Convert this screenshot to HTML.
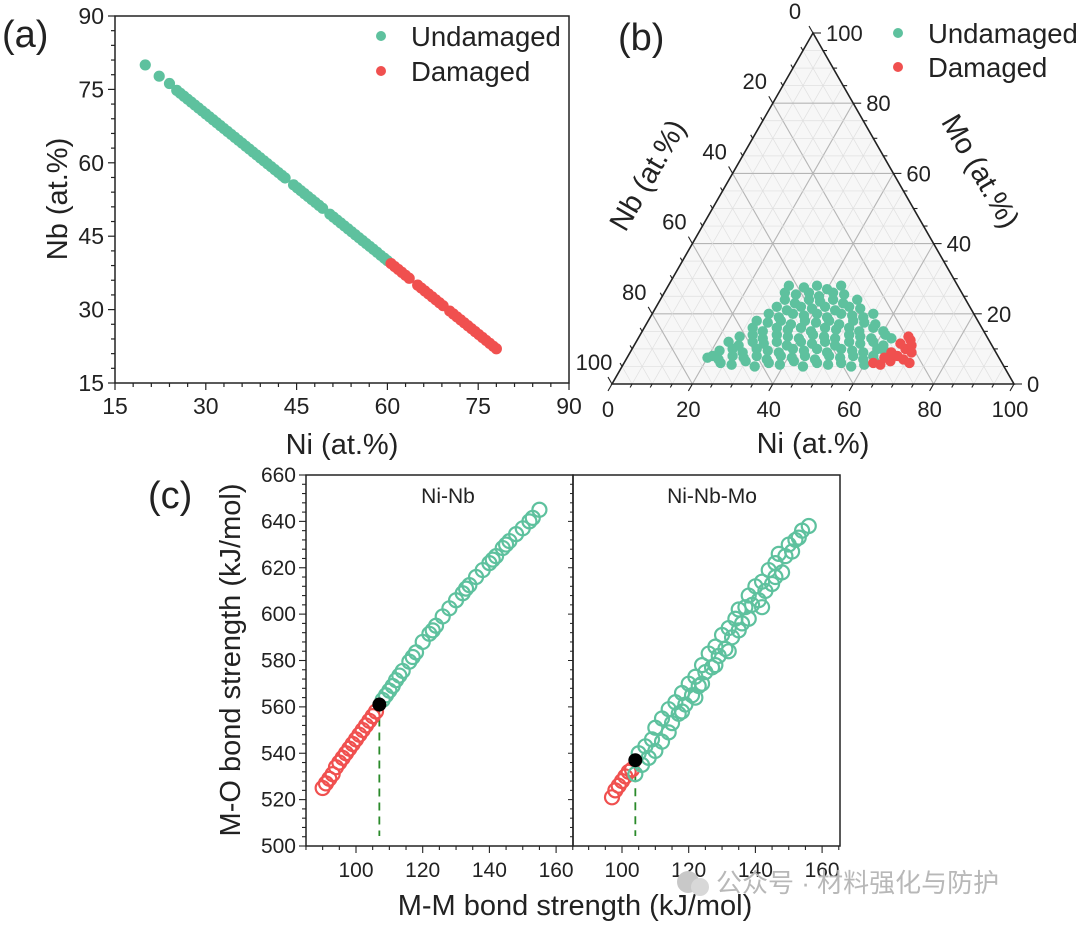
<!DOCTYPE html>
<html><head><meta charset="utf-8"><style>
html,body{margin:0;padding:0;background:#fff;}
svg{display:block;font-family:"Liberation Sans","Noto Sans CJK SC",sans-serif;}
</style></head><body>
<svg id="fig" width="1080" height="925" viewBox="0 0 1080 925">
<rect width="1080" height="925" fill="#fff"/>
<g id="pa"></g>
<g id="pb"></g>
<g id="pc"></g>
<g>
<circle cx="688" cy="882" r="11" fill="#c8c8c8"/><circle cx="700" cy="887" r="9" fill="#d8d8d8"/>
<text x="716" y="892" font-size="26" fill="#b8b8b8">公众号 · 材料强化与防护</text>
</g>
</svg>
<script>
const GREEN="#5ec19e", RED="#f0504f";
// Panel (a) data: [Ni, Nb]
const aUndamaged=[[20,80],[22.3,77.7],[24,76.2],[25.2,74.8],[25.8,74.2],[26.4,73.6],[27,73],[27.6,72.4],[28.2,71.8],[28.8,71.2],[29.4,70.6],[30,70],[30.6,69.4],[31.2,68.8],[31.8,68.2],[32.4,67.6],[33,67],[33.6,66.4],[34.2,65.8],[34.8,65.2],[35.4,64.6],[36,64],[36.6,63.4],[37.2,62.8],[37.8,62.2],[38.4,61.6],[39,61],[39.6,60.4],[40.2,59.8],[40.8,59.2],[41.4,58.6],[42,58],[42.6,57.4],[43.1,56.9],[44.5,55.5],[45.1,54.9],[45.7,54.3],[46.3,53.7],[46.9,53.1],[47.5,52.5],[48.1,51.9],[48.7,51.3],[49.3,50.7],[50.5,49.5],[51.1,48.9],[51.7,48.3],[52.3,47.7],[52.9,47.1],[53.5,46.5],[54.1,45.9],[54.7,45.3],[55.3,44.7],[55.9,44.1],[56.5,43.5],[57.1,42.9],[57.7,42.3],[58.3,41.7],[58.9,41.1],[59.5,40.5],[60,40]];
const aDamaged=[[60.6,39.4],[61.2,38.8],[61.8,38.2],[62.4,37.6],[63,37],[63.6,36.4],[65,35],[65.6,34.4],[66.2,33.8],[66.8,33.2],[67.4,32.6],[68,32],[68.6,31.4],[69.2,30.8],[70.3,29.7],[70.9,29.1],[71.5,28.5],[72.1,27.9],[72.7,27.3],[73.3,26.7],[73.9,26.1],[74.5,25.5],[75.1,24.9],[75.7,24.3],[76.3,23.7],[76.9,23.1],[77.5,22.5],[78,22]];
const aTicks=[15,30,45,60,75,90];
// Panel (b) data: [Ni, Mo]
const bUndamaged=[[24,6],[27,5.5],[30,6.5],[33,5],[36,6],[39,5.5],[42,6.5],[45,5],[48,6],[51,5.5],[54,6],[57,5],[60,5.5],[62,6.5],
[20,7.5],[21,8],[23,7],[26,8],[29,7.5],[32,8],[35,7],[38,8],[41,7.5],[44,8],[47,7],[50,8],[53,7.5],[56,8],[59,7],[61,8],
[22,9.5],[25,10],[28,9],[31,10],[34,9.5],[37,9],[40,10],[43,9.5],[46,10],[49,9],[52,10],[55,9.5],[58,9],[61,10],[63,9.5],
[23,12],[26,11],[29,12],[32,11.5],[35,12],[38,11],[41,12],[44,11.5],[47,12],[50,11],[53,12],[56,11.5],[59,12],[62,11],
[25,13.5],[28,14],[31,13],[34,14],[37,13.5],[40,13],[43,14],[46,13.5],[49,13],[52,14],[55,13.5],[58,13],[61,14],[63,13],
[27,16],[30,15],[33,16],[36,15.5],[39,16],[42,15],[45,16],[48,15.5],[51,16],[54,15],[57,16],[60,15],
[27,18],[30,17.5],[33,18],[36,17],[39,18],[42,17.5],[45,18],[48,17],[51,18],[54,17.5],[57,17],
[29,20],[32,19],[35,20],[38,19.5],[41,20],[44,19],[47,20],[50,19.5],[53,19],[55,20],
[30,22],[33,21],[36,22],[39,21.5],[42,22],[45,21],[48,22],[51,21.5],
[31,24],[34,23],[37,24],[40,23.5],[43,24],[46,23],[49,24],
[30,26],[33,25.5],[36,26],[39,25],[42,26],[45,25.5],
[30,28],[34,27.5],[37,28],[40,27],[43,28]];
const bDamaged=[[62,6],[64,5.5],[66,6.5],[67,8],[65,9],[68,10],[66,11.5],[69,7],[70,9],[68,12.5],[71,6],[67,13.5],[64,7.5],[69,11]];
const bTicks=[0,20,40,60,80,100];
// Panel (c) data: [M-M, M-O]
const cNbDamaged=[[90,525],[91,527],[92,529],[93,531],[94,534],[95,536],[96,538],[97,540],[98,542],[99,544],[100,546],[101,548],[102,550],[103,552],[104,554],[105,556],[106,558]];
const cNbUndamaged=[[108,563],[109,565],[110,567],[111,569],[112,571.5],[113,573.5],[114,575.5],[116,579.5],[117,581.5],[118,583.5],[120,588],[122,591.5],[123,593],[124,595],[126,599],[128,602.5],[130,606],[132,609],[133,611],[134,612.5],[136,616],[138,619],[140,622],[141,623.5],[142,625],[144,628.5],[145,630],[146,631.5],[148,634.5],[150,637],[152,640],[153,641.5],[155,645]];
const cNbCritical=[107,561];
const cMoDamaged=[[97,521],[98,524],[99,526],[100,528],[101,530],[102,532],[103,533]];
const cMoUndamaged=[[104,531],[105,540],[106,535],[107,543],[108,538],[109,546],[110,541],[110,551],[112,545],[112,555],[114,549],[114,559],[115,553],[116,562],[117,557],[118,566],[118,558],[119,561],[120,570],[121,565],[122,573],[122,564],[123,569],[124,578],[124,570],[125,575],[126,583],[127,577],[128,586],[128,578],[129,582],[130,591],[131,585],[132,594],[132,584],[133,590],[134,598],[135,593],[135,602],[136,596],[137,603],[138,608],[138,598],[139,604],[140,612],[141,606],[142,614],[142,603],[143,610],[144,619],[145,613],[146,622],[146,616],[147,626],[148,618],[149,625],[150,630],[151,627],[152,632],[153,633],[154,636],[156,638]];
const cMoCritical=[104,537];
const cYTicks=[500,520,540,560,580,600,620,640,660];
const cXTicks=[100,120,140,160];

const NS="http://www.w3.org/2000/svg";
function mk(parent,tag,attrs,txt){const e=document.createElementNS(NS,tag);for(const k in attrs)e.setAttribute(k,attrs[k]);if(txt!==undefined)e.textContent=txt;parent.appendChild(e);return e;}

// ---------- Panel A ----------
(function(){
const g=document.getElementById('pa');
const X0=115,X1=569,Y0=16,Y1=383;
const sx=v=>X0+(v-15)/75*(X1-X0), sy=v=>Y1-(v-15)/75*(Y1-Y0);
const box=mk(g,'rect',{x:X0,y:Y0,width:X1-X0,height:Y1-Y0,fill:'none',stroke:'#222','stroke-width':1.5});

for(let v=15;v<=90;v+=3){const maj=aTicks.includes(v);const L=maj?7:4;
mk(g,'line',{x1:sx(v),x2:sx(v),y1:Y1,y2:Y1+L,stroke:'#222','stroke-width':1.2});
mk(g,'line',{x1:X0,x2:X0-L,y1:sy(v),y2:sy(v),stroke:'#222','stroke-width':1.2});}
aTicks.forEach(v=>{
const t=mk(g,'text',{x:sx(v),y:Y1+31,'font-size':23,'text-anchor':'middle',fill:'#222'},String(v));

const u=mk(g,'text',{x:X0-11,y:sy(v)+8,'font-size':23,'text-anchor':'end',fill:'#222'},String(v));
});
aUndamaged.forEach(p=>{const c=mk(g,'circle',{cx:sx(p[0]),cy:sy(p[1]),r:5.6,fill:GREEN});});
aDamaged.forEach(p=>{const c=mk(g,'circle',{cx:sx(p[0]),cy:sy(p[1]),r:5.6,fill:RED});});
const l1=mk(g,'circle',{cx:381,cy:36,r:5,fill:GREEN});
const l2=mk(g,'circle',{cx:381,cy:71,r:5,fill:RED});
const t1=mk(g,'text',{x:411,y:46,'font-size':27.5,fill:'#222'},'Undamaged');
const t2=mk(g,'text',{x:411,y:81,'font-size':27.5,fill:'#222'},'Damaged');
const xt=mk(g,'text',{x:342,y:454,'font-size':29,'text-anchor':'middle',fill:'#222'},'Ni (at.%)');
const yt=mk(g,'text',{x:0,y:0,'font-size':29,'text-anchor':'middle',fill:'#222',transform:'translate(67,199) rotate(-90)'},'Nb (at.%)');
const pl=mk(g,'text',{x:2,y:47,'font-size':38,fill:'#222'},'(a)');
})();

// ---------- Panel B ----------
(function(){
const g=document.getElementById('pb');
const T=[813,33],BL=[612,384],BR=[1014,384];
const P=(ni,mo)=>{const nb=100-ni-mo;return[(ni*BR[0]+mo*T[0]+nb*BL[0])/100,(ni*BR[1]+mo*T[1]+nb*BL[1])/100];};
mk(g,'polygon',{points:[T,BL,BR].map(p=>p.join(',')).join(' '),fill:'#f7f7f7'});
for(let v=5;v<100;v+=5){const maj=v%20===0;const st=maj?'#b5b5b5':'#e0e0e0';const w=maj?1.1:0.7;
let a=P(v,0),b=P(v,100-v);mk(g,'line',{x1:a[0],y1:a[1],x2:b[0],y2:b[1],stroke:st,'stroke-width':w});
a=P(0,v);b=P(100-v,v);mk(g,'line',{x1:a[0],y1:a[1],x2:b[0],y2:b[1],stroke:st,'stroke-width':w});
a=P(0,100-v);b=P(100-v,0);mk(g,'line',{x1:a[0],y1:a[1],x2:b[0],y2:b[1],stroke:st,'stroke-width':w});}
const fr=mk(g,'polygon',{points:[T,BL,BR].map(p=>p.join(',')).join(' '),fill:'none',stroke:'#222','stroke-width':1.6});

for(let v=0;v<=100;v+=5){const L=v%20===0?8:4;
let p=P(v,0);mk(g,'line',{x1:p[0],y1:p[1],x2:p[0]-L*0.5,y2:p[1]+L*0.87,stroke:'#222','stroke-width':1.1});
p=P(100-v,v);mk(g,'line',{x1:p[0],y1:p[1],x2:p[0]+L,y2:p[1],stroke:'#222','stroke-width':1.1});
p=P(0,100-v);mk(g,'line',{x1:p[0],y1:p[1],x2:p[0]-L*0.5,y2:p[1]-L*0.87,stroke:'#222','stroke-width':1.1});}
bTicks.forEach(v=>{
let p=P(v,0);let t=mk(g,'text',{x:p[0]-4,y:p[1]+33,'font-size':22,'text-anchor':'middle',fill:'#222'},String(v));

p=P(100-v,v);t=mk(g,'text',{x:p[0]+13,y:p[1]+8,'font-size':22,fill:'#222'},String(v));

p=P(0,100-v);t=mk(g,'text',{x:p[0]-18,y:p[1]-14,'font-size':22,'text-anchor':'middle',fill:'#222'},String(v));
});
bUndamaged.forEach(d=>{const p=P(d[0],d[1]);const c=mk(g,'circle',{cx:p[0],cy:p[1],r:5.2,fill:GREEN});});
bDamaged.forEach(d=>{const p=P(d[0],d[1]);const c=mk(g,'circle',{cx:p[0],cy:p[1],r:5.2,fill:RED});});
const l1=mk(g,'circle',{cx:898,cy:33,r:5,fill:GREEN});
const l2=mk(g,'circle',{cx:898,cy:67,r:5,fill:RED});
let t=mk(g,'text',{x:928,y:43,'font-size':27.5,fill:'#222'},'Undamaged');
t=mk(g,'text',{x:928,y:77,'font-size':27.5,fill:'#222'},'Damaged');
t=mk(g,'text',{x:813,y:453,'font-size':29,'text-anchor':'middle',fill:'#222'},'Ni (at.%)');
t=mk(g,'text',{x:0,y:0,'font-size':29,'text-anchor':'middle',fill:'#222',transform:'translate(656,180) rotate(-60)'},'Nb (at.%)');
t=mk(g,'text',{x:0,y:0,'font-size':29,'text-anchor':'middle',fill:'#222',transform:'translate(972,176) rotate(60)'},'Mo (at.%)');
t=mk(g,'text',{x:618,y:50,'font-size':38,fill:'#222'},'(b)');
})();

// ---------- Panel C ----------
(function(){
const g=document.getElementById('pc');
const Y0=475,Y1=846;
const sy=v=>Y1-(v-500)/160*(Y1-Y0);
const k=66.7/20;
const panels=[{x0:306,x1:573,ref100:356,name:'Ni-Nb',lx:448,dam:cNbDamaged,und:cNbUndamaged,crit:cNbCritical,key:'ni-nb'},
{x0:573,x1:840,ref100:622,name:'Ni-Nb-Mo',lx:712,dam:cMoDamaged,und:cMoUndamaged,crit:cMoCritical,key:'ni-nb-mo'}];
panels.forEach(pn=>{
const sx=v=>pn.ref100+(v-100)*k;
const r=mk(g,'rect',{x:pn.x0,y:Y0,width:pn.x1-pn.x0,height:Y1-Y0,fill:'none',stroke:'#222','stroke-width':1.5});

for(let v=85;v<=165;v+=5){const x=sx(v);if(x<pn.x0-0.5||x>pn.x1+0.5)continue;const L=v%20===0?7:4;
mk(g,'line',{x1:x,x2:x,y1:Y1,y2:Y1+L,stroke:'#222','stroke-width':1.1});}
cXTicks.forEach(v=>{const t=mk(g,'text',{x:sx(v),y:Y1+31,'font-size':21,'text-anchor':'middle',fill:'#222'},String(v));
});
const lb=mk(g,'text',{x:pn.lx,y:503,'font-size':21,'text-anchor':'middle',fill:'#222'},pn.name);

const dl=mk(g,'line',{x1:sx(pn.crit[0]),x2:sx(pn.crit[0]),y1:sy(pn.crit[1]),y2:Y1-10,stroke:'#2a8a2a','stroke-width':1.8,'stroke-dasharray':'8,6'});

pn.dam.forEach(p=>{const c=mk(g,'circle',{cx:sx(p[0]),cy:sy(p[1]),r:7,fill:'none',stroke:RED,'stroke-width':2.2});});
pn.und.forEach(p=>{const c=mk(g,'circle',{cx:sx(p[0]),cy:sy(p[1]),r:7,fill:'none',stroke:GREEN,'stroke-width':2.2});});
const cc=mk(g,'circle',{cx:sx(pn.crit[0]),cy:sy(pn.crit[1]),r:7,fill:'#000'});
});
for(let v=500;v<=660;v+=4){const L=v%20===0?7:4;mk(g,'line',{x1:306,x2:306-L,y1:sy(v),y2:sy(v),stroke:'#222','stroke-width':1.1});
mk(g,'line',{x1:573,x2:573-(v%20===0?5:3),y1:sy(v),y2:sy(v),stroke:'#222','stroke-width':1});}
cYTicks.forEach(v=>{const t=mk(g,'text',{x:296,y:sy(v)+7,'font-size':21,'text-anchor':'end',fill:'#222'},String(v));
});
let t=mk(g,'text',{x:575,y:915,'font-size':29,'text-anchor':'middle',fill:'#222'},'M-M bond strength (kJ/mol)');
t=mk(g,'text',{x:0,y:0,'font-size':29,'text-anchor':'middle',fill:'#222',transform:'translate(240,660) rotate(-90)'},'M-O bond strength (kJ/mol)');
t=mk(g,'text',{x:148,y:508,'font-size':38,fill:'#222'},'(c)');
})();
</script>
</body></html>
